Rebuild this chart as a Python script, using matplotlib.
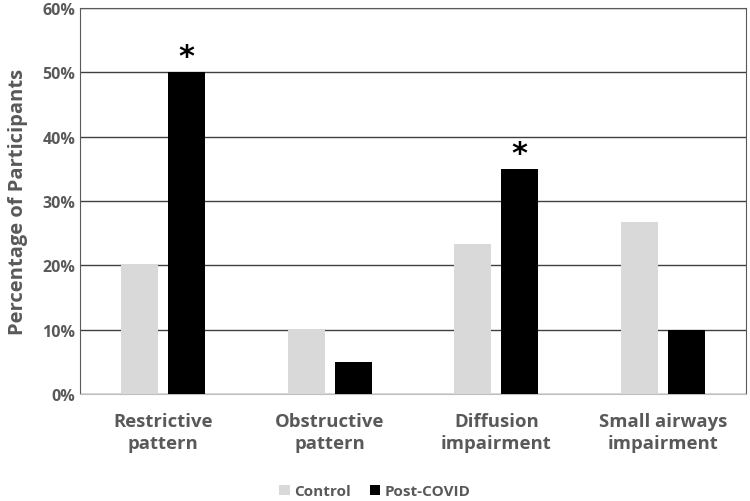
import matplotlib.pyplot as plt
import numpy as np

categories = ["Restrictive\npattern", "Obstructive\npattern", "Diffusion\nimpairment", "Small airways\nimpairment"]
control = [20.0, 10.0, 23.3, 26.7]
post_covid = [50.0, 5.0, 35.0, 10.0]
significant = [True, False, True, False]
yticks = [0, 10, 20, 30, 40, 50, 60]

plt.rcParams["font.family"] = ["Open Sans", "DejaVu Sans"]
text_gray = "#595959"

fig = plt.figure(figsize=(7.5, 5.02), dpi=100)
ax = fig.add_axes([80 / 750, 1 - 395 / 502, 666 / 750, 386 / 502])

x = np.arange(len(categories))
width = 0.22
off = 0.141
ax.bar(x - off, control, width, color="#D9D9D9", label="Control", zorder=3)
ax.bar(x + off, post_covid, width, color="black", label="Post-COVID", zorder=3)

# significance markers
for xi, v, sig in zip(x, post_covid, significant):
    if sig:
        ax.text(xi + off, v + 0.2, "*", ha="center", va="bottom", fontsize=22,
                fontweight="bold", color="black", family="DejaVu Sans")

ax.set_xlim(-0.5, len(categories) - 0.5)
ax.set_ylim(0, 60)
ax.set_yticks(yticks)
ax.set_yticklabels([f"{t}%" for t in yticks])
ax.yaxis.grid(True, color="#404040", linewidth=1.0, zorder=0)
ax.set_xticks(x)
ax.set_xticklabels(categories)
ax.tick_params(axis="both", length=0, colors=text_gray, labelsize=11.5)
ax.tick_params(axis="x", pad=13, labelsize=13.3)
for lab in ax.get_xticklabels() + ax.get_yticklabels():
    lab.set_fontweight("bold")
    lab.set_linespacing(1.25)

for side in ["left", "right", "top"]:
    ax.spines[side].set_color("#595959")
ax.spines["bottom"].set_color("#BFBFBF")

ax.set_ylabel("Percentage of Participants", fontsize=14.5, fontweight="bold",
              color=text_gray, labelpad=10)

leg = fig.legend(loc="lower center", bbox_to_anchor=(0.5, -0.022), ncol=2, frameon=False,
                 handlelength=0.7, handleheight=0.7, handletextpad=0.3, columnspacing=1.2,
                 prop={"weight": "bold", "size": 11})
for t in leg.get_texts():
    t.set_color(text_gray)

fig.savefig("out.png", dpi=100)
